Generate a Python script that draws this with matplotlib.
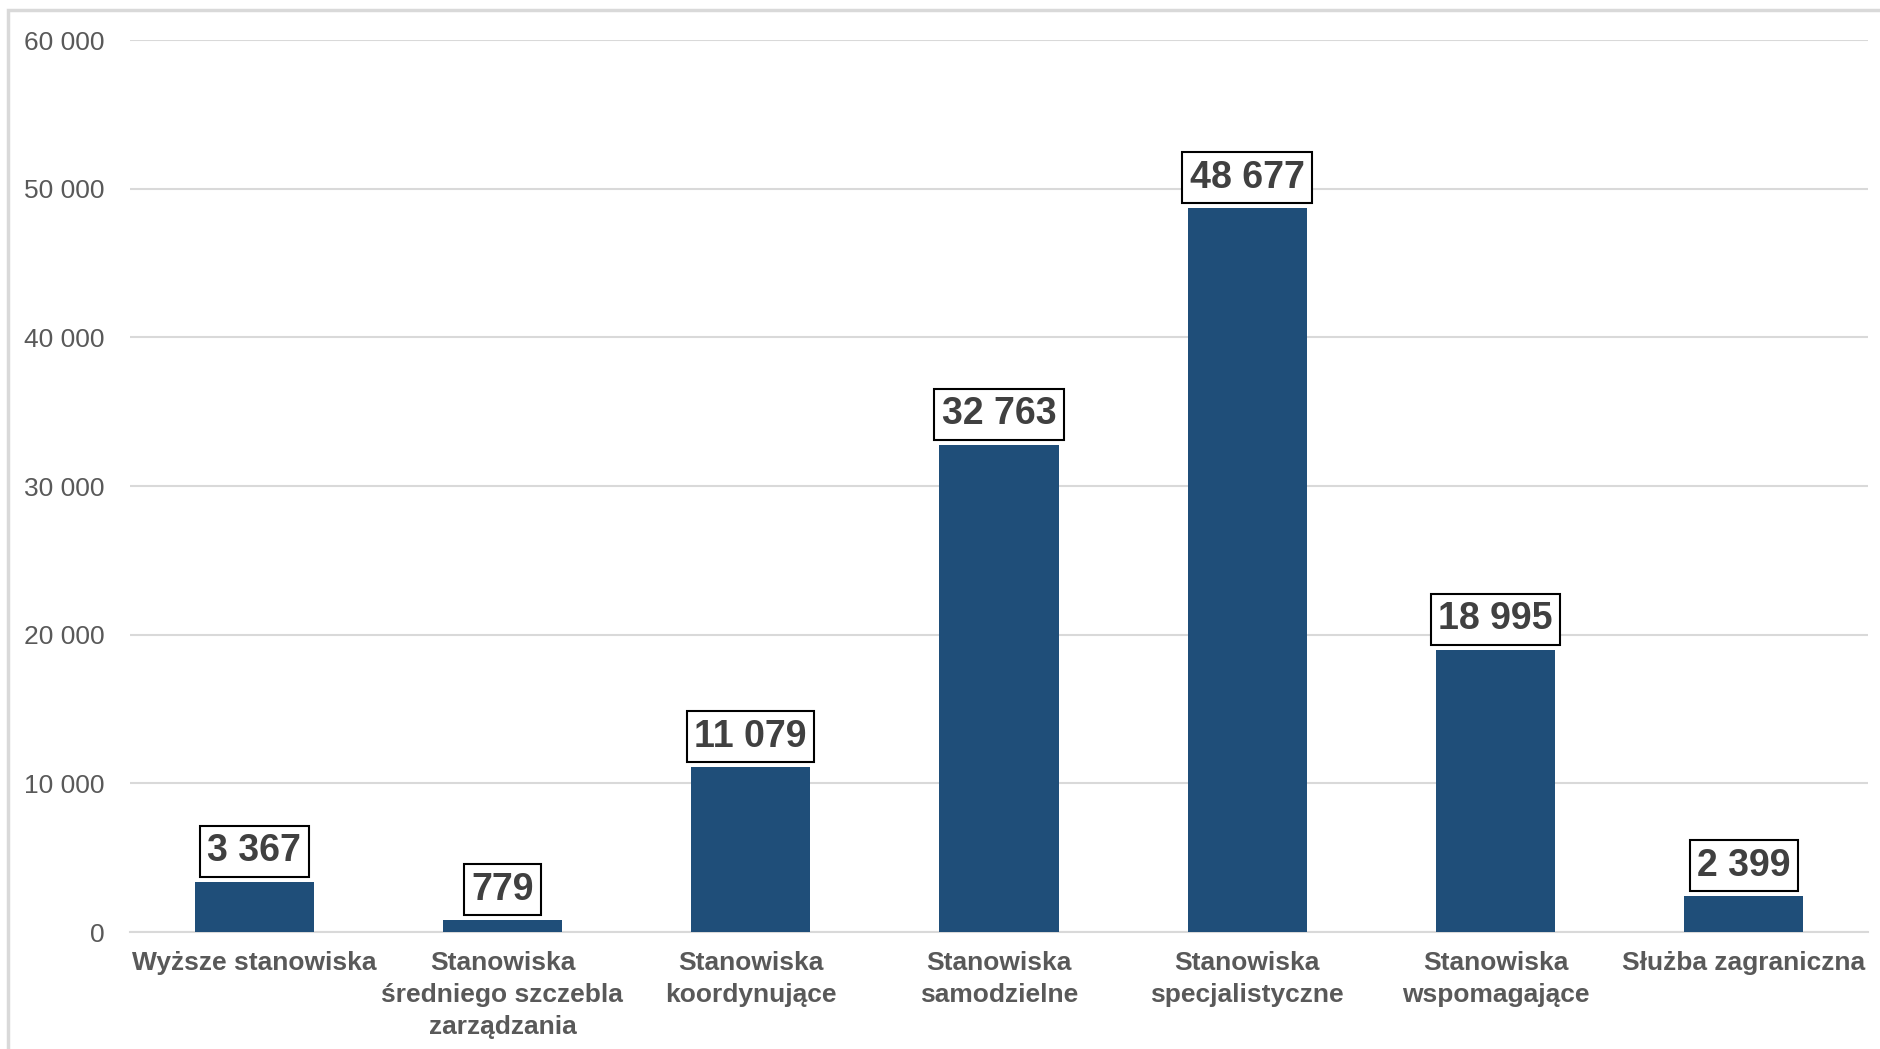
import matplotlib.pyplot as plt
from matplotlib.patches import Rectangle

plt.rcParams['font.family'] = ['Liberation Sans', 'DejaVu Sans']

kategorie = [
    "Wyższe stanowiska",
    "Stanowiska\nśredniego szczebla\nzarządzania",
    "Stanowiska\nkoordynujące",
    "Stanowiska\nsamodzielne",
    "Stanowiska\nspecjalistyczne",
    "Stanowiska\nwspomagające",
    "Służba zagraniczna",
]
liczba = [3367, 779, 11079, 32763, 48677, 18995, 2399]
y_ticks = [0, 10000, 20000, 30000, 40000, 50000, 60000]


def fmt(v):
    return f"{v:,}".replace(",", " ")


fig = plt.figure(figsize=(18.8, 10.49), dpi=100)
ax = fig.add_axes([130 / 1880, 1 - 932 / 1049, 1738 / 1880, 892 / 1049])

# ramka wykresu (ucięta z prawej i od dołu)
fig.patches.append(Rectangle((8 / 1880, -0.05), 1.1, 1 - 10 / 1049 + 0.05,
                             transform=fig.transFigure, fill=False,
                             edgecolor='#D9D9D9', linewidth=2.5))

x = range(len(kategorie))
ax.bar(x, liczba, width=0.48, color='#1F4E79', zorder=3)

for i, v in enumerate(liczba):
    ax.annotate(fmt(v), (i, v), xytext=(0, 9), textcoords='offset points',
                ha='center', va='bottom', fontsize=27, fontweight='bold',
                color='#404040', zorder=4,
                bbox=dict(boxstyle='square,pad=0.2', facecolor='white',
                          edgecolor='black', linewidth=1.5))

ax.set_xlim(-0.5, len(kategorie) - 0.5)
ax.set_ylim(0, 60000)
ax.set_yticks(y_ticks)
ax.set_yticklabels([fmt(t) for t in y_ticks], fontsize=19, color='#595959')
ax.set_xticks(list(x))
ax.set_xticklabels(kategorie, fontsize=19, fontweight='bold', color='#595959',
                   linespacing=1.42)
ax.tick_params(axis='both', length=0)
ax.tick_params(axis='y', pad=18)
ax.tick_params(axis='x', pad=14)

ax.grid(axis='y', color='#D9D9D9', linewidth=1.5, zorder=0)
for s in ['top', 'right', 'left']:
    ax.spines[s].set_visible(False)
ax.spines['bottom'].set_color('#D9D9D9')
ax.spines['bottom'].set_linewidth(1.5)

fig.savefig('out.png', dpi=100)
